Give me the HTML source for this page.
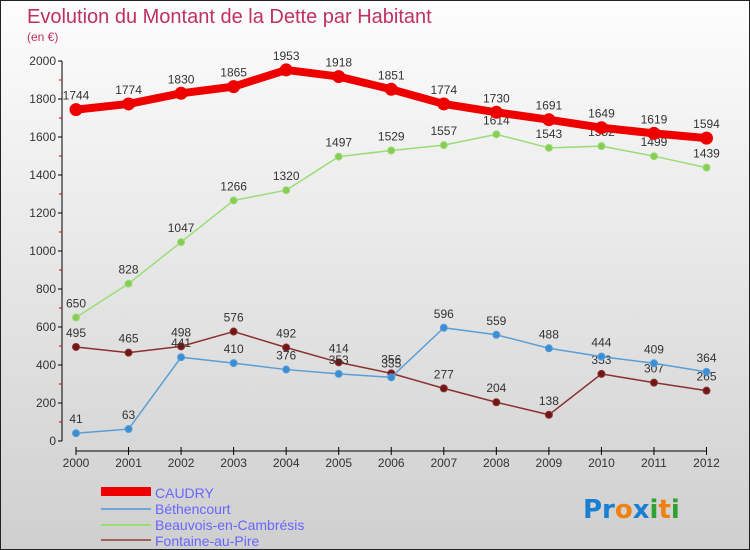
<!DOCTYPE html>
<html><head><meta charset="utf-8"><style>
body{margin:0}
#c{width:748px;height:548px;border:1px solid #222;background:linear-gradient(#fdfdfd,#cfcfcf);position:relative;font-family:"Liberation Sans",sans-serif;overflow:hidden}
</style></head><body>
<div id="c">
<svg id="s" width="748" height="548" xmlns="http://www.w3.org/2000/svg">
<text x="26" y="22" font-size="20" fill="#c03060">Evolution du Montant de la Dette par Habitant</text>
<text x="26" y="40" font-size="12" fill="#c03060">(en €)</text>
<g id="axes"></g><g id="series"></g>
<g>
<rect x="100" y="486" width="50" height="9" fill="#e00"/>
<text x="154" y="497" font-size="14" fill="#66f">CAUDRY</text>
<rect x="100" y="507" width="50" height="2" fill="#6fa6d6"/>
<text x="154" y="513" font-size="14" fill="#66f">Béthencourt</text>
<rect x="100" y="523" width="50" height="2" fill="#99dd77"/>
<text x="154" y="529" font-size="14" fill="#66f">Beauvois-en-Cambrésis</text>
<rect x="100" y="538" width="50" height="2" fill="#a06060"/>
<text x="154" y="545" font-size="14" fill="#66f">Fontaine-au-Pire</text>
</g>
<g font-size="26" font-weight="bold" font-family="'DejaVu Sans',sans-serif">
<text x="582" y="517"><tspan fill="#1a7fd0">Pr</tspan><tspan fill="#f08010">o</tspan><tspan fill="#1a7fd0">x</tspan><tspan fill="#30a030">i</tspan><tspan fill="#f08010">t</tspan><tspan fill="#30a030">i</tspan></text>
</g>
</svg></div>
<script>
const years=[2000,2001,2002,2003,2004,2005,2006,2007,2008,2009,2010,2011,2012];
const yTicks=[0,200,400,600,800,1000,1200,1400,1600,1800,2000];
const caudry=[1744,1774,1830,1865,1953,1918,1851,1774,1730,1691,1649,1619,1594];
const bethencourt=[41,63,441,410,376,353,335,596,559,488,444,409,364];
const beauvois=[650,828,1047,1266,1320,1497,1529,1557,1614,1543,1552,1499,1439];
const fontaine=[495,465,498,576,492,414,356,277,204,138,353,307,265];
const NS='http://www.w3.org/2000/svg';
const X=i=>75+i*(705.5-75)/(years.length-1);
const Y=v=>440-v*(380/2000);
function mk(t,a,p){const e=document.createElementNS(NS,t);for(const k in a)e.setAttribute(k,a[k]);p.appendChild(e);return e;}
const ax=document.getElementById('axes'),sg=document.getElementById('series');
let e=mk('line',{x1:61,y1:Y(0),x2:61,y2:Y(2000),stroke:'#000'},ax);

yTicks.forEach((v,i)=>{mk('line',{x1:57,x2:61,y1:Y(v),y2:Y(v),stroke:'#000'},ax);
 if(i<yTicks.length-1)mk('line',{x1:58,x2:61,y1:Y(v+100),y2:Y(v+100),stroke:'#d00'},ax);
 const t=mk('text',{x:55,y:Y(v)+4,'font-size':12,'text-anchor':'end',fill:'#333'},ax);t.textContent=v;
 });
e=mk('line',{x1:X(0),y1:450,x2:X(12),y2:450,stroke:'#000'},ax);

years.forEach((y,i)=>{mk('line',{x1:X(i),x2:X(i),y1:446,y2:454,stroke:'#000'},ax);
 const t=mk('text',{x:X(i),y:466,'font-size':12,'text-anchor':'middle',fill:'#333'},ax);t.textContent=y;
 });
function series(d,name,col,w,r,dot){
 const g=mk('g',{},sg);
 mk('polyline',{points:d.map((v,i)=>X(i)+','+Y(v)).join(' '),fill:'none',stroke:col,'stroke-width':w,'stroke-linejoin':'round'},g);
 d.forEach((v,i)=>{const c=mk('circle',{cx:X(i),cy:Y(v),r:r,fill:dot,stroke:col,'stroke-width':1},g);
  
  const t=mk('text',{x:X(i),y:Y(v)-10,'font-size':12,'text-anchor':'middle',fill:'#333'},g);t.textContent=v;
  });
}
series(fontaine,'fontaine','#8a3030',1.5,3.5,'#701818');
series(bethencourt,'bethencourt','#5a9ed6',1.5,3.5,'#3a8ed6');
series(beauvois,'beauvois','#99dd77',1.5,3.5,'#88cc55');
series(caudry,'caudry','#e00',8,6,'#e00');
</script>
</body></html>
